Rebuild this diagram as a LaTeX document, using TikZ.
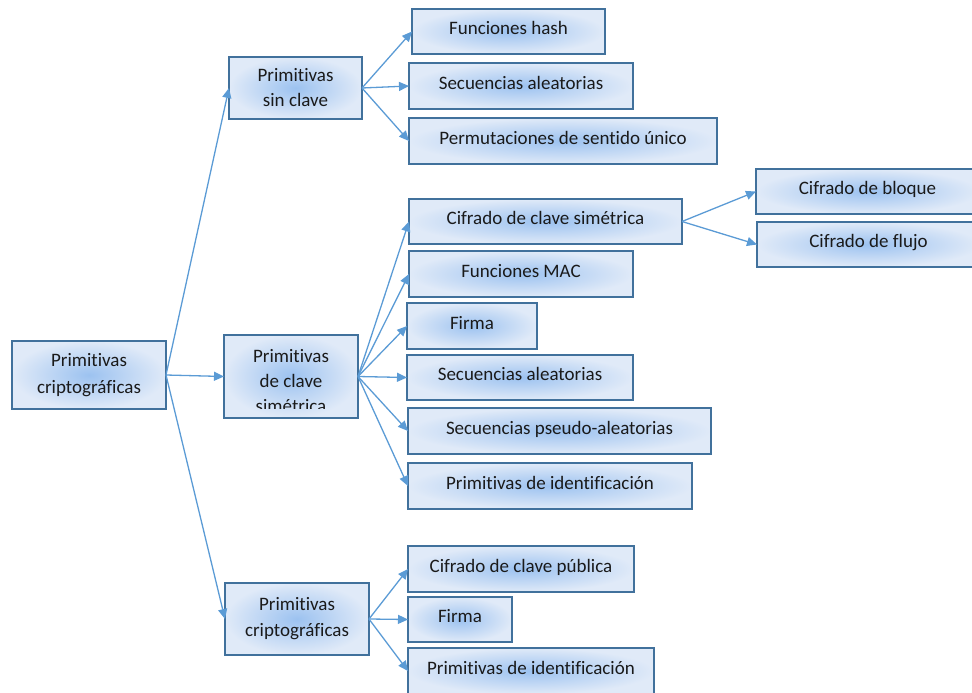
\documentclass[tikz,border=0pt]{standalone}
\usepackage{fontspec}
\setmainfont[Ligatures=NoCommon,RawFeature={-liga;-clig;-calt}]{Carlito}
\usetikzlibrary{arrows.meta}
\definecolor{boxline}{HTML}{41719C}
\definecolor{boxin}{HTML}{9CC2F0}
\definecolor{boxout}{HTML}{E0EAF8}
\definecolor{link}{HTML}{5B9BD5}
\definecolor{ink}{HTML}{1A1A1A}
\begin{document}
\begin{tikzpicture}[x=1pt,y=-1pt,
  box/.style={draw=boxline, line width=2pt, inner color=boxin, outer color=boxout,
    text=ink, align=center, inner sep=0pt, outer sep=0pt,
    font=\fontsize{19}{26}\selectfont},
  leaf/.style={box, text height=13pt, text depth=7pt},
  arr/.style={draw=link, line width=1.3pt, -{Triangle[length=10pt,width=9pt]}},
  lbl/.style={text=ink, align=center, inner sep=0pt, font=\fontsize{19}{25}\selectfont}]
\useasboundingbox (0,0) rectangle (972,693);

% first level
\node[box, minimum width=154, minimum height=68, font=\fontsize{19}{27}\selectfont] (root) at (89,375) {Primitivas\\criptográficas};

% second level
\node[box, minimum width=133, minimum height=62, font=\fontsize{19}{25}\selectfont] (sk) at (295.5,88) {Primitivas\\sin clave};
\node[box, minimum width=134, minimum height=83] (sym) at (291,376.5) {};
\begin{scope}
  \clip (226,337) rectangle (356,408.5);
  \node[lbl] (symlabel) at (291,381) {Primitivas\\de clave\\simétrica};
\end{scope}
\node[box, minimum width=144, minimum height=72] (pk) at (297,619) {Primitivas\\criptográficas};

% leaves: keyless primitives
\node[leaf, minimum width=193, minimum height=45] (hash) at (508.5,31.5) {Funciones hash};
\node[leaf, minimum width=224, minimum height=46] (rnda) at (521,86) {Secuencias aleatorias};
\node[leaf, minimum width=308, minimum height=46] (perm) at (563,141) {Permutaciones de sentido único};

% leaves: symmetric-key primitives
\node[leaf, minimum width=273, minimum height=45] (sc) at (545.5,221.5) {Cifrado de clave simétrica};
\node[leaf, minimum width=224, minimum height=46] (mac) at (521,274) {Funciones MAC};
\node[leaf, minimum width=130, minimum height=46] (siga) at (472,326) {Firma};
\node[leaf, minimum width=226, minimum height=45] (rndb) at (520,377.5) {Secuencias aleatorias};
\node[leaf, minimum width=303, minimum height=46] (prng) at (559.5,431) {Secuencias pseudo-aleatorias};
\node[leaf, minimum width=284, minimum height=46] (ida) at (550,486) {Primitivas de identificación};

% symmetric ciphers
\node[leaf, minimum width=223, minimum height=45] (block) at (867.5,191.5) {Cifrado de bloque};
\node[leaf, minimum width=223, minimum height=45] (stream) at (868.5,244.5) {Cifrado de flujo};

% leaves: public-key primitives
\node[leaf, minimum width=226, minimum height=46] (pub) at (521,569) {Cifrado de clave pública};
\node[leaf, minimum width=104, minimum height=45] (sigb) at (460,619.5) {Firma};
\node[leaf, minimum width=246, minimum height=46] (idb) at (531,671) {Primitivas de identificación};

% connectors
\foreach \t in {sk,sym,pk} \draw[arr] (root.east) -- (\t.west);
\foreach \t in {hash,rnda,perm} \draw[arr] (sk.east) -- (\t.west);
\foreach \t in {sc,mac,siga,rndb,prng,ida} \draw[arr] (sym.east) -- (\t.west);
\foreach \t in {block,stream} \draw[arr] (sc.east) -- (\t.west);
\foreach \t in {pub,sigb,idb} \draw[arr] (pk.east) -- (\t.west);
\end{tikzpicture}
\end{document}
